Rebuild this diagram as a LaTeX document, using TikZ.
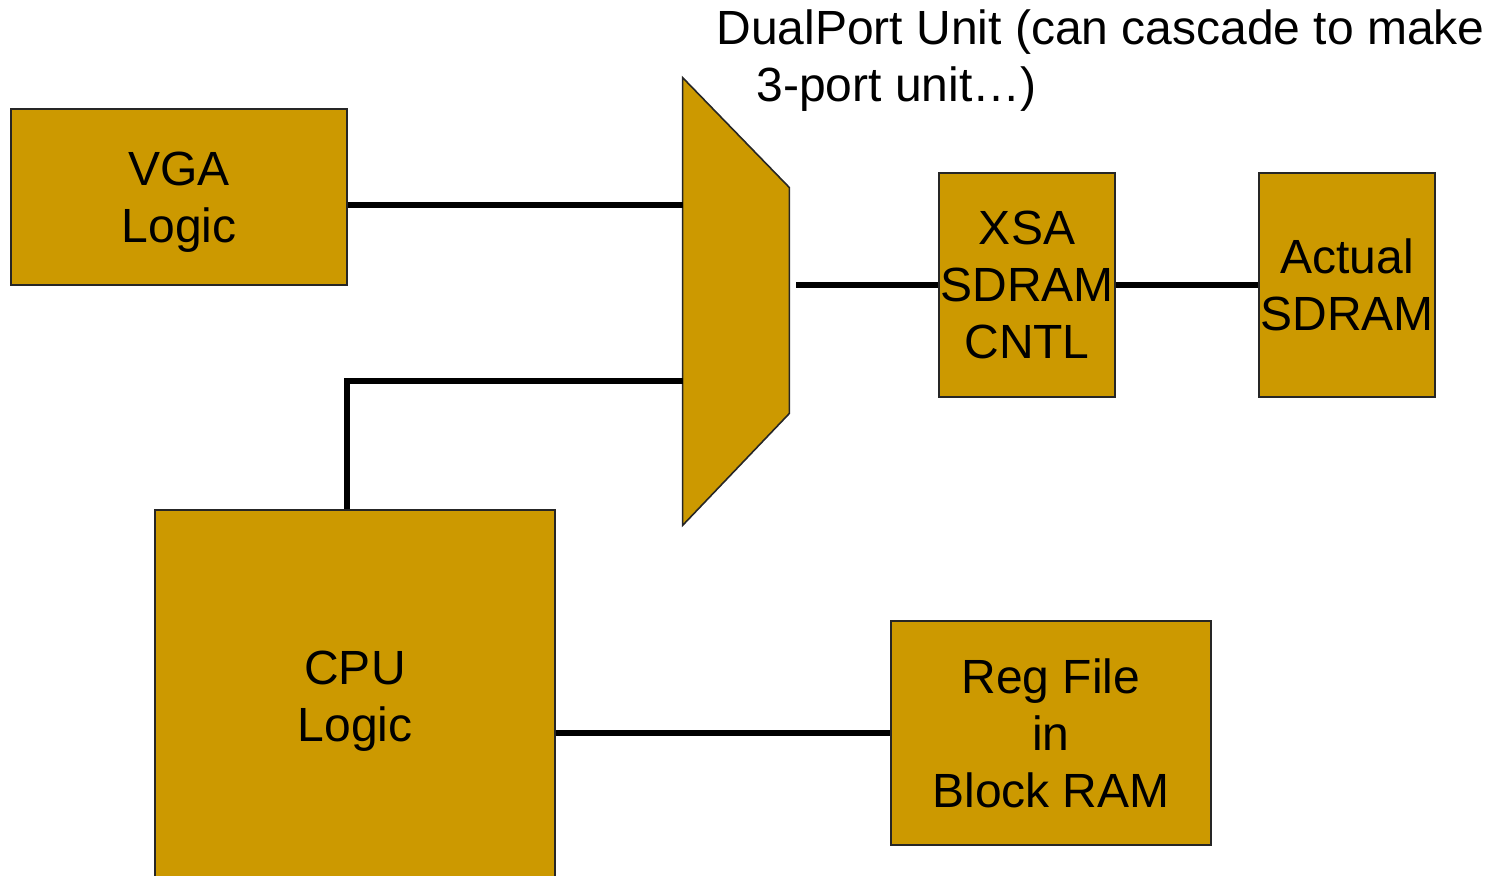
\documentclass[tikz,border=0pt]{standalone}
\usepackage{fontspec}
\setmainfont{Liberation Sans}
\definecolor{gold}{HTML}{CC9900}
\begin{document}
\begin{tikzpicture}[x=0.5pt,y=-0.5pt,
  blk/.style={draw=black!85,line width=0.8pt,fill=gold,inner sep=0pt,align=center,
    text depth=0pt,font=\fontsize{24}{28.5}\selectfont},
  wire/.style={line width=3.4pt,black},
  ttl/.style={inner sep=0pt,anchor=base west,font=\fontsize{24}{28.5}\selectfont}]
\useasboundingbox (0,0) rectangle (1502,876);
\node[blk,minimum width=168pt,minimum height=88pt] (vga) at (179,197) {VGA\\Logic};
\node[blk,minimum width=200pt,minimum height=186pt] (cpu) at (355,696) {CPU\\Logic};
\node[blk,minimum width=88pt,minimum height=112pt] (xsa) at (1027,285) {XSA\\SDRAM\\CNTL};
\node[blk,minimum width=88pt,minimum height=112pt] (act) at (1347,285) {Actual\\SDRAM};
\node[blk,minimum width=160pt,minimum height=112pt] (reg) at (1051,733) {Reg File\\in\\Block RAM};
\node[inner sep=0pt,minimum width=53pt,minimum height=223.5pt] (mux) at (736,301.5) {};
\draw[draw=black!85,line width=0.8pt,fill=gold]
  (mux.north west) -- ([yshift=-55pt]mux.north east) -- ([yshift=56pt]mux.south east)
  -- (mux.south west) -- cycle;
\node[ttl] (t1) at (716,45) {DualPort Unit (can cascade to make};
\node[ttl] (t2) at (756,102) {3-port unit…)};
\draw[wire] ([yshift=-4pt]vga.east) coordinate (va) -- (va -| mux.west);
\draw[wire] ([xshift=-4pt]cpu.north) |- ([yshift=-39.75pt]mux.west);
\coordinate (mo) at ([xshift=3.5pt]mux.east);
\draw[wire] (mo |- xsa.west) -- (xsa.west);
\draw[wire] (xsa.east) -- (act.west);
\draw[wire] (cpu.east |- reg.west) -- (reg.west);
\end{tikzpicture}
\end{document}
